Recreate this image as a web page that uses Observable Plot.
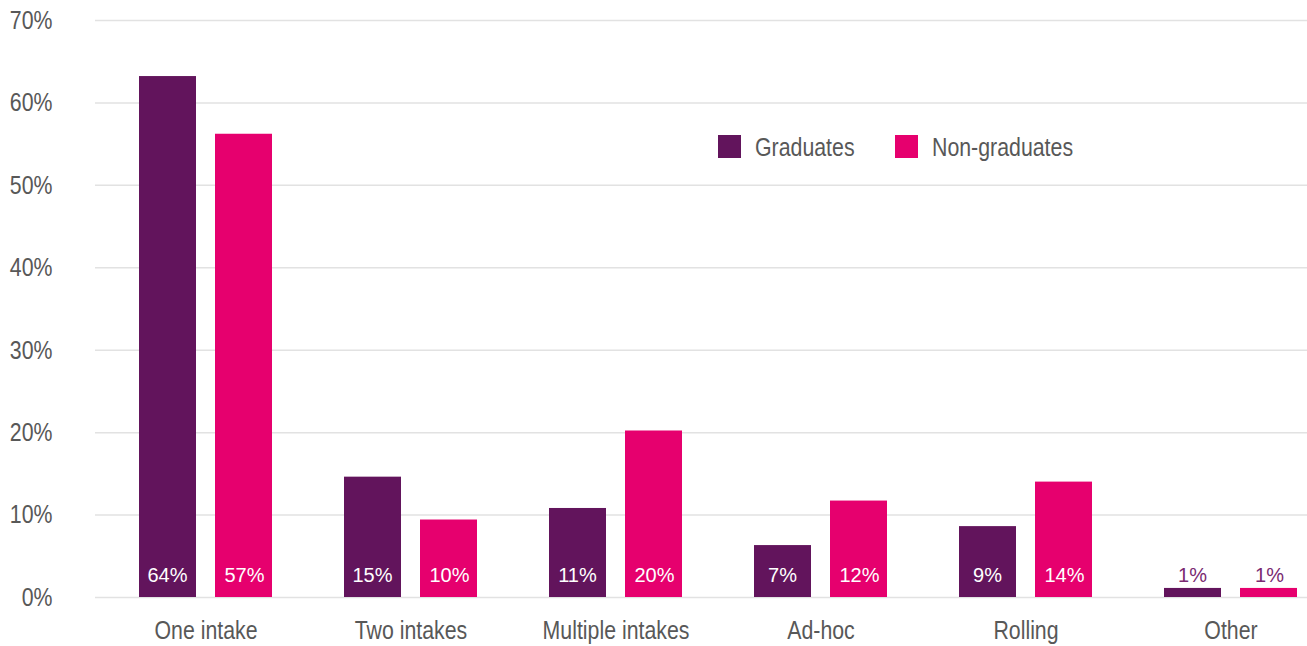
<!DOCTYPE html>
<html>
<head>
<meta charset="utf-8">
<script src="https://cdn.jsdelivr.net/npm/d3@7"></script>
<script src="https://cdn.jsdelivr.net/npm/@observablehq/plot@0.6"></script>
<style>
  html, body { margin: 0; padding: 0; background: #fff; }
  #wrap { position: relative; width: 1307px; height: 646px; }
  .sw { position: absolute; width: 23px; height: 23px; }
  .lt { position: absolute; font-family: "Liberation Sans", Arial, sans-serif; font-size: 26px; color: #585858;
    line-height: 26px; transform: scaleX(0.82); transform-origin: left center; white-space: nowrap; }
</style>
</head>
<body>
<div id="wrap"></div>
<script>
const groups = ["One intake", "Two intakes", "Multiple intakes", "Ad-hoc", "Rolling", "Other"];
const series = ["Graduates", "Non-graduates"];
const colors = ["#62145c", "#e6006e"];
const graduates = [63.2, 14.6, 10.8, 6.3, 8.6, 1.1];
const nonGraduates = [56.2, 9.4, 20.2, 11.7, 14.0, 1.1];
const graduateLabels = ["64%", "15%", "11%", "7%", "9%", "1%"];
const nonGraduateLabels = ["57%", "10%", "20%", "12%", "14%", "1%"];
const yTicks = [0, 10, 20, 30, 40, 50, 60, 70];

const gradData = groups.map((g, i) => ({group: g, value: graduates[i], label: graduateLabels[i]}));
const nonData = groups.map((g, i) => ({group: g, value: nonGraduates[i], label: nonGraduateLabels[i]}));

const axisFont = '"Liberation Sans", Arial, sans-serif';
const valFont = '"Liberation Sans", Arial, sans-serif';
const labelFill = d => d.value > 3 ? "#ffffff" : "#7a2a72";

const chart = Plot.plot({
  width: 1307,
  height: 646,
  marginTop: 20,
  marginBottom: 49,
  marginLeft: 95,
  marginRight: 0,
  style: {fontFamily: axisFont, fontSize: "26px", color: "#585858", background: "#fff"},
  x: {domain: groups, range: [101, 1334], padding: 0, label: null, tickSize: 0, tickPadding: 23},
  y: {domain: [0, 70], ticks: yTicks, tickFormat: d => d + "%", label: null, tickSize: 0, tickPadding: 43},
  marks: [
    Plot.ruleY(yTicks, {stroke: "#e2e2e2", strokeWidth: 1.5}),
    Plot.barY(gradData, {x: "group", y: "value", fill: colors[0], insetLeft: 36, insetRight: 112}),
    Plot.barY(nonData, {x: "group", y: "value", fill: colors[1], insetLeft: 112, insetRight: 36}),
    Plot.text(gradData, {x: "group", y: 0, text: "label", dx: -38.5, dy: -22, fill: labelFill,
      fontFamily: valFont, fontSize: 20, lineAnchor: "middle"}),
    Plot.text(nonData, {x: "group", y: 0, text: "label", dx: 38.5, dy: -22, fill: labelFill,
      fontFamily: valFont, fontSize: 20, lineAnchor: "middle"})
  ]
});

// condense axis tick labels horizontally (reference uses a condensed face)
chart.querySelectorAll('g[aria-label$="tick label"] text').forEach(t => {
  const tr = t.getAttribute("transform") || "";
  t.setAttribute("transform", (tr + " scale(0.82,1)").trim());
});

const wrap = document.getElementById("wrap");
wrap.appendChild(chart);

const legendPos = [{sw: 718, tx: 755}, {sw: 895, tx: 932}];
series.forEach((s, i) => {
  const sw = document.createElement("div");
  sw.className = "sw";
  sw.style.left = legendPos[i].sw + "px";
  sw.style.top = "135px";
  sw.style.background = colors[i];
  const t = document.createElement("div");
  t.className = "lt";
  t.style.left = legendPos[i].tx + "px";
  t.style.top = "134px";
  t.textContent = s;
  wrap.appendChild(sw);
  wrap.appendChild(t);
});
</script>
</body>
</html>
